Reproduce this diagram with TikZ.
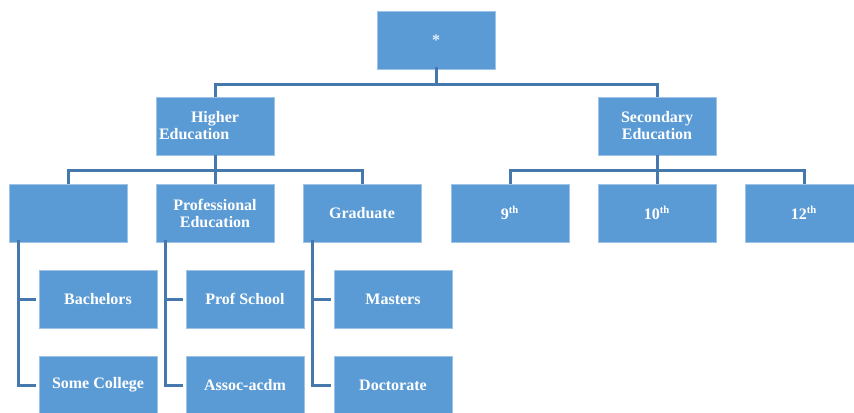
\documentclass[tikz,border=0pt]{standalone}
\usepackage{fontspec}
\setmainfont{Liberation Serif}
\definecolor{boxfill}{RGB}{91,155,213}
\definecolor{boxline}{RGB}{157,195,230}
\definecolor{linkcol}{RGB}{69,120,172}

\tikzset{every picture/.style={line width=0.75pt}}
\tikzset{
  edubox/.style={draw=boxline, line width=0.6pt, fill=boxfill, text=white,
    font=\fontsize{12}{12.8}\selectfont\bfseries, minimum width=88.5pt,
    minimum height=43.5pt, inner sep=1.5pt, align=center},
  link/.style={draw=linkcol, line width=2.25pt},
}

\begin{document}
\begin{tikzpicture}[x=0.75pt,y=0.75pt,yscale=-1,xscale=1]
	\useasboundingbox (0,0) rectangle (854,412);

	% Root
	\node [edubox, text=white!85!boxfill] (root) at (436,40) {*};
	% Second level
	\node [edubox, text width=84pt, align=left, inner xsep=2.25pt] (higher) at (215,126) {\makebox[\linewidth]{Higher}\\Education};
	\node [edubox] (second) at (657,126) {Secondary\\Education};
	% Third level
	\node [edubox] (blank) at (68,213) {};
	\node [edubox] (prof) at (215,213) {Professional\\Education};
	\node [edubox] (grad) at (362,213) {Graduate};
	\node [edubox] (g9) at (510,213) {9\textsuperscript{th}};
	\node [edubox] (g10) at (657,213) {10\textsuperscript{th}};
	\node [edubox] (g12) at (804,213) {12\textsuperscript{th}};
	% Fourth level
	\node [edubox] (bach) at (98,299) {Bachelors};
	\node [edubox] (some) at (98,385) {Some College};
	\node [edubox] (profsch) at (245,299) {Prof School};
	\node [edubox] (assoc) at (245,385) {Assoc-acdm};
	\node [edubox] (masters) at (393,299) {Masters};
	\node [edubox] (doct) at (393,385) {Doctorate};

	% Bars
	\coordinate (bar1) at (436,84);
	\coordinate (bar2) at (215,170);
	\coordinate (bar3) at (657,170);

	% Connectors
	\draw [link] ([yshift=-2pt]root.south) -- (bar1);
	\draw [link] (higher.north) |- (bar1) -| (second.north);
	\draw [link] (higher) -- (prof);
	\draw [link] (blank.north) |- (bar2) -| (grad.north);
	\draw [link] (second) -- (g10);
	\draw [link] (g9.north) |- (bar3) -| (g12.north);

	\draw [link, shorten >=2pt] ([xshift=7.5pt,yshift=-2pt]blank.south west) |- (bach.west);
	\draw [link, shorten >=2pt] ([xshift=7.5pt,yshift=-2pt]blank.south west) |- (some.west);
	\draw [link, shorten >=2pt] ([xshift=7.5pt,yshift=-2pt]prof.south west) |- (profsch.west);
	\draw [link, shorten >=2pt] ([xshift=7.5pt,yshift=-2pt]prof.south west) |- (assoc.west);
	\draw [link, shorten >=2pt] ([xshift=7.5pt,yshift=-2pt]grad.south west) |- (masters.west);
	\draw [link, shorten >=2pt] ([xshift=7.5pt,yshift=-2pt]grad.south west) |- (doct.west);

\end{tikzpicture}
\end{document}
